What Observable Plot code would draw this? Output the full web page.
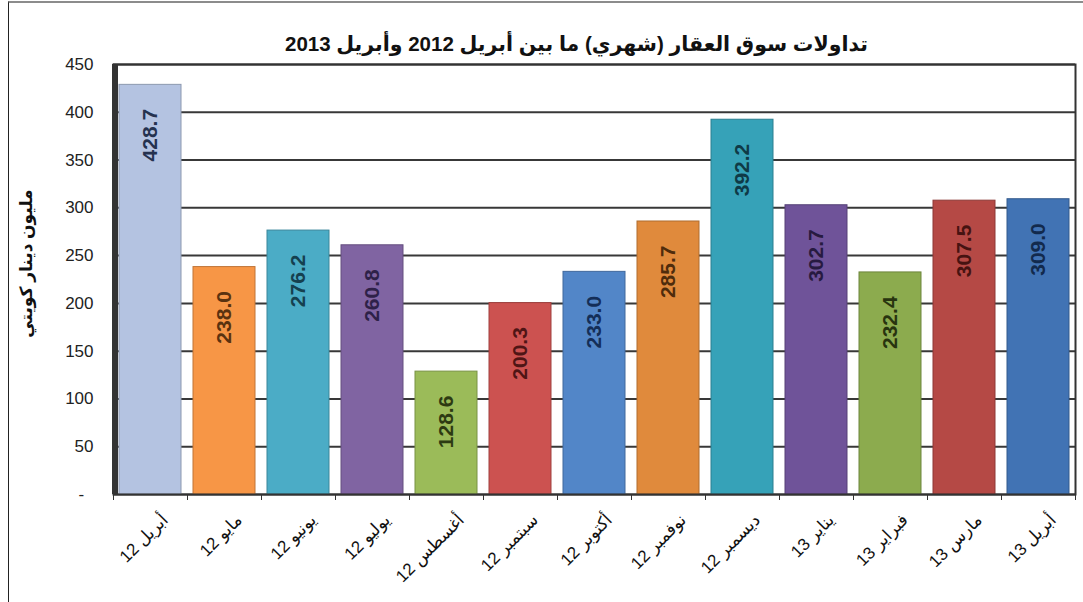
<!DOCTYPE html>
<html><head><meta charset="utf-8">
<script src="https://cdn.jsdelivr.net/npm/d3@7"></script>
<script src="https://cdn.jsdelivr.net/npm/@observablehq/plot@0.6"></script>
<style>
body{margin:0;background:#fff;}
#wrap{position:relative;width:1083px;height:602px;overflow:hidden;background:#fff;}
#wrap svg{position:absolute;left:0;top:0;}
#frame{position:absolute;left:8px;top:1px;right:-4px;bottom:-4px;border-top:2px solid #8c8c8c;border-left:1.5px solid #222;pointer-events:none;}
</style></head><body><div id="wrap"><div id="frame"></div></div>
<script>
const months = ["أبريل 12","مايو 12","يونيو 12","يوليو 12","أغسطس 12","سبتمبر 12","أكتوبر 12","نوفمبر 12","ديسمبر 12","يناير 13","فبراير 13","مارس 13","أبريل 13"];
const values = [428.7, 238.0, 276.2, 260.8, 128.6, 200.3, 233.0, 285.7, 392.2, 302.7, 232.4, 307.5, 309.0];
const yTicks = [0, 50, 100, 150, 200, 250, 300, 350, 400, 450];
const titleText = "تداولات سوق العقار (شهري) ما بين أبريل 2012 وأبريل 2013";
const yTitle = "مليون دينار كويتي";

const barColors = ["#b4c3e1","#f79646","#4bacc6","#8064a2","#9bbb59","#cc5250","#5286c8","#e08a3c","#36a2b8","#6f5399","#8cab4e","#b54945","#4173b4"];
const labelColors = ["#25324f","#5a3210","#15404f","#2e2148","#2d3a12","#4f1515","#142e58","#4f2c0c","#0f3a47","#271a40","#28340f","#461311","#122a4d"];

const data = months.map((m, i) => ({month: m, value: values[i], color: barColors[i], lc: labelColors[i]}));
const font = '"Liberation Sans","DejaVu Sans",Arial,sans-serif';

const wall = (index, scales, values, dims) => {
  const g = d3.create("svg:g");
  g.append("rect")
    .attr("x", dims.marginLeft - 1)
    .attr("y", dims.marginTop)
    .attr("width", 6)
    .attr("height", dims.height - dims.marginTop - dims.marginBottom)
    .attr("fill", "#333");
  return g.node();
};

const chart = Plot.plot({
  width: 1083, height: 602,
  marginLeft: 113, marginRight: 8, marginTop: 64, marginBottom: 108,
  style: {fontFamily: font, background: "transparent", overflow: "visible", color: "#111"},
  x: {domain: months, padding: 0},
  y: {domain: [0, 450]},
  marks: [
    Plot.ruleY(yTicks, {stroke: "#383838", strokeWidth: 2}),
    Plot.barY(data, {x: "month", y: "value", fill: "color",
      stroke: d => d3.color(d.color).darker(0.7).formatHex(), strokeWidth: 1,
      insetLeft: 6, insetRight: 6}),
    Plot.frame({stroke: "#333", strokeWidth: 2}),
    wall,
    Plot.axisY(yTicks, {tickSize: 0, tickPadding: 20, fontSize: 17, fill: "#222", label: null,
      tickFormat: d => d === 0 ? "-\u2007" : String(d)}),
    Plot.axisX({tickSize: 0, tickPadding: 18, rotate: -45, textAnchor: "end", fontSize: 17,
      fill: "#111", dx: 10, label: null}),
    Plot.axisX({tickSize: 6, tickFormat: () => "", dx: -37, label: null, stroke: "#333"}),
    Plot.axisX([months[months.length - 1]], {tickSize: 6, tickFormat: () => "", dx: 37, label: null, stroke: "#333"}),
    Plot.text(data, {x: "month", y: "value", text: d => d.value.toFixed(1), rotate: -90,
      textAnchor: "end", dy: 24, fontSize: 21, fontWeight: "bold", fill: "lc"}),
    Plot.text([titleText], {frameAnchor: "top", dy: -28, dx: -18, fontSize: 20.5, fontWeight: "bold", fill: "#111"}),
    Plot.text([yTitle], {frameAnchor: "left", textAnchor: "middle", dx: -87, dy: -16, rotate: -90, fontSize: 17, fontWeight: "bold", fill: "#111"})
  ]
});
document.getElementById("wrap").prepend(chart);
</script></body></html>
